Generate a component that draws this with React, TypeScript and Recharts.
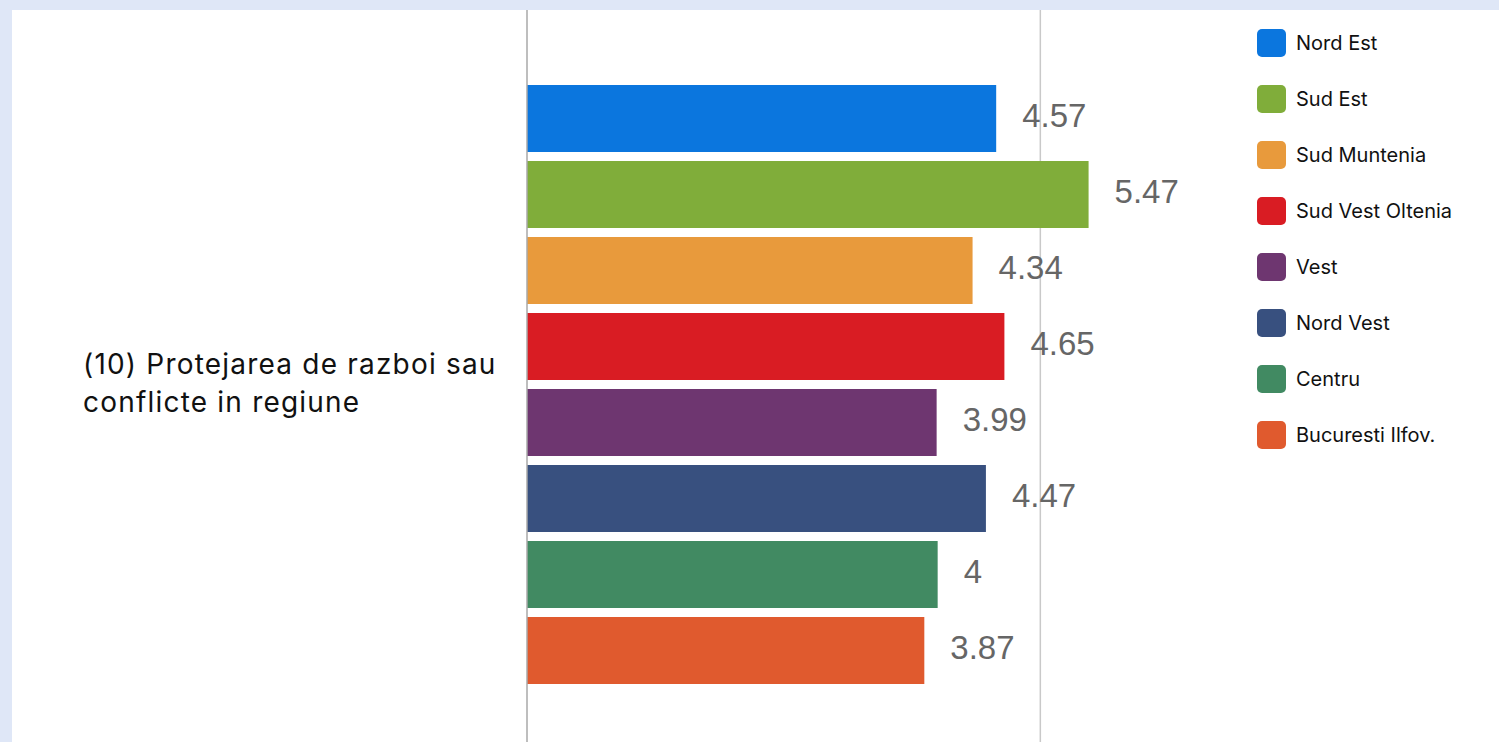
import { BarChart, Bar, XAxis, YAxis, ReferenceLine, Legend, LabelList } from "recharts";

const question = "(10) Protejarea de razboi sau conflicte in regiune";
const questionLines = ["(10) Protejarea de razboi sau", "conflicte in regiune"];

const regions = [
  "Nord Est",
  "Sud Est",
  "Sud Muntenia",
  "Sud Vest Oltenia",
  "Vest",
  "Nord Vest",
  "Centru",
  "Bucuresti Ilfov.",
];
const scores = [4.57, 5.47, 4.34, 4.65, 3.99, 4.47, 4, 3.87];
const colors = [
  "#0b76de",
  "#80ad3a",
  "#e89a3c",
  "#d91c23",
  "#6e3670",
  "#38507f",
  "#418a62",
  "#e05a2e",
];
const gridAt = 5;

const row: Record<string, string | number> = { name: question };
regions.forEach((r, i) => {
  row[r] = scores[i];
});
const data = [row];

function QuestionTick({ y }: any) {
  return (
    <text fontFamily="Inter" fontSize={28} letterSpacing={1.2} fill="#111">
      <tspan x={71} y={y - 11}>{questionLines[0]}</tspan>
      <tspan x={71} y={y + 27}>{questionLines[1]}</tspan>
    </text>
  );
}

function RegionLegend({ payload }: any) {
  const items = [...(payload || [])].sort(
    (a: any, b: any) => regions.indexOf(a.value) - regions.indexOf(b.value)
  );
  return (
    <div style={{ fontFamily: "Inter", fontSize: 20, color: "#111" }}>
      {items.map((p: any) => (
        <div key={p.value} style={{ height: 56, display: "flex", alignItems: "center" }}>
          <span
            style={{
              width: 29,
              height: 28,
              borderRadius: 5,
              background: p.color,
              marginRight: 10,
              display: "inline-block",
            }}
          />
          <span>{p.value}</span>
        </div>
      ))}
    </div>
  );
}

export default function App() {
  return (
    <div
      style={{
        position: "fixed",
        left: 0,
        top: 0,
        width: 1499,
        height: 742,
        background: "#dfe7f7",
        overflow: "hidden",
      }}
    >
      <div
        style={{
          position: "absolute",
          left: 12,
          top: 10,
          width: 1487,
          height: 732,
          background: "#fff",
          overflow: "hidden",
        }}
      >
        <BarChart
          width={1487}
          height={750}
          data={data}
          layout="vertical"
          margin={{ top: 0, right: 356, bottom: 0, left: 0 }}
          barCategoryGap={75}
          barGap={9}
        >
          <XAxis type="number" domain={[0, 6]} hide />
          <YAxis
            type="category"
            dataKey="name"
            width={515}
            axisLine={{ stroke: "#a9a9a9", strokeWidth: 1.5 }}
            tickLine={false}
            tick={<QuestionTick />}
          />
          {/* gridline at 5, kept behind the bars */}
          <ReferenceLine x={gridAt} stroke="#c9c9c9" strokeWidth={1.5} zIndex={-100} />
          <Legend
            layout="vertical"
            align="center"
            verticalAlign="middle"
            wrapperStyle={{ left: 1245, top: 5, width: "auto", height: "auto" }}
            content={<RegionLegend />}
          />
          {regions.map((r, i) => (
            <Bar key={r} dataKey={r} fill={colors[i]} isAnimationActive={false}>
              <LabelList
                dataKey={r}
                position="right"
                offset={26}
                dy={-3}
                fill="#666"
                fontSize={33}
                fontFamily="Liberation Sans"
              />
            </Bar>
          ))}
        </BarChart>
      </div>
    </div>
  );
}
